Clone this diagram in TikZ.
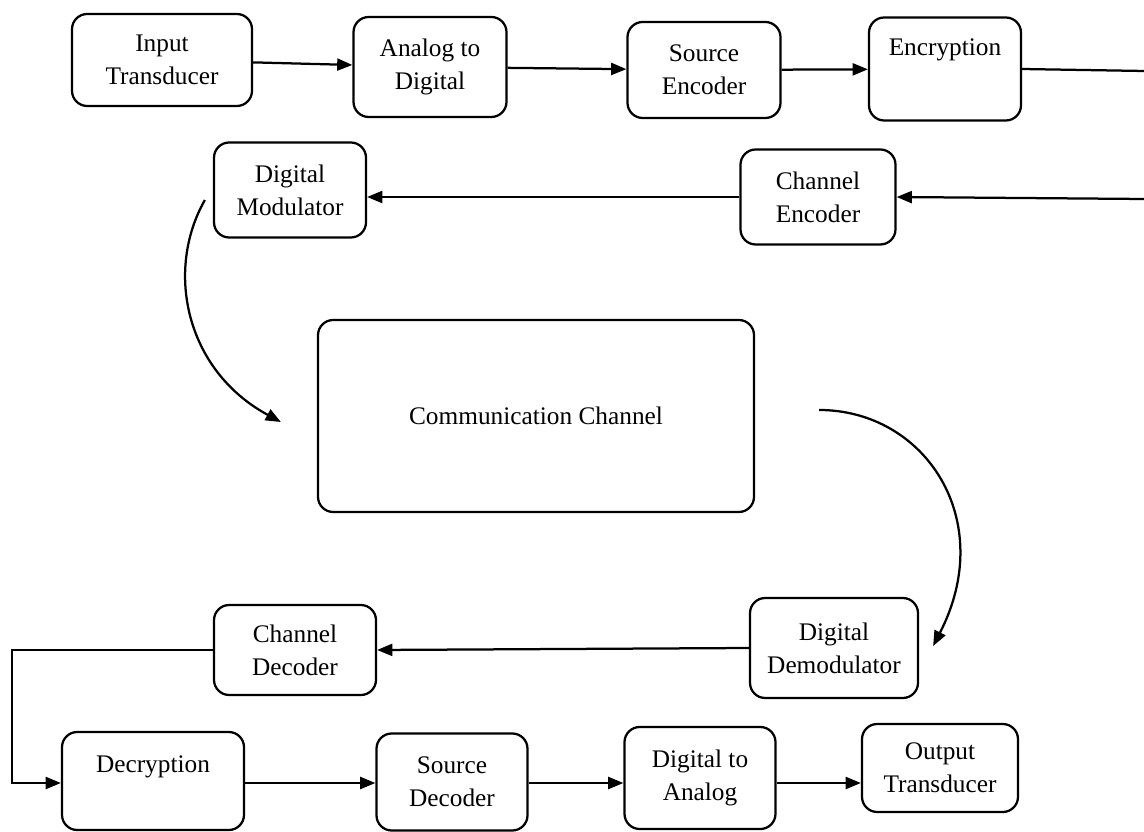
\documentclass[tikz,border=0pt]{standalone}
\usepackage{fontspec}
\setmainfont{Liberation Serif}
\usetikzlibrary{arrows.meta}
\begin{document}
\begin{tikzpicture}[x=0.025cm,y=-0.025cm,
  blk/.style={draw, line width=1.6pt, rounded corners=0.38cm, align=center,
    font=\fontsize{18}{23.5}\selectfont, inner sep=0pt},
  sz/.style 2 args={minimum width=#1*0.025cm, minimum height=#2*0.025cm},
  conn/.style={line width=1.6pt, -{Triangle[length=0.38cm,width=0.3cm]}},
  plain/.style={line width=1.6pt}]
\useasboundingbox (0,0) rectangle (1144,832);
% row 1
\node[blk, sz={180}{92}]  (IT)  at (162,60)  {Input\\Transducer};
\node[blk, sz={153}{100}] (A2D) at (430,67)  {Analog to\\Digital};
\node[blk, sz={153}{96}]  (SE)  at (704,70)  {Source\\Encoder};
\node[blk, sz={152}{103}] (ENC) at (945,69)  {Encryption\\[8pt]\mbox{}};
% row 2
\node[blk, sz={152}{95}]  (DM)  at (290,190) {Digital\\Modulator};
\node[blk, sz={155}{95}]  (CE)  at (818,197) {Channel\\Encoder};
% channel
\node[blk, sz={436}{192}] (CC)  at (536,416) {Communication Channel};
% row 4
\node[blk, sz={162}{90}]  (CD)  at (295,650) {Channel\\Decoder};
\node[blk, sz={168}{100}] (DD)  at (834,648) {Digital\\Demodulator};
% row 5
\node[blk, sz={182}{98}]  (DEC) at (153,781) {Decryption\\\mbox{}};
\node[blk, sz={151}{97}]  (SD)  at (452,782) {Source\\Decoder};
\node[blk, sz={151}{102}] (D2A) at (700,778) {Digital to\\Analog};
\node[blk, sz={156}{88}]  (OT)  at (940,768) {Output\\Transducer};
% free ends
\coordinate (R1) at (1144,71);
\coordinate (R2) at (1144,199);
\coordinate (L1) at (12,650);
\coordinate (L2) at (12,783);
% connectors row 1
\draw[conn] (IT) -- (A2D);
\draw[conn] (A2D) -- (SE);
\draw[conn] (SE) -- (ENC);
\draw[plain] (ENC.east) -- (R1);
\draw[conn] (R2) -- (CE.east);
\draw[conn] (CE.west) -- (DM.east |- CE.west);
% curves
\coordinate (DMout) at ([xshift=-0.2cm,yshift=-0.25cm]DM.west);
\coordinate (CCin) at ([xshift=-0.9cm,yshift=-0.15cm]CC.west);
\draw[conn] (DMout) .. controls (165,270) and (185,370) .. (CCin);
\coordinate (CCout) at ([xshift=1.6cm,yshift=0.15cm]CC.east);
\coordinate (DDin) at ([xshift=0.35cm,yshift=0.05cm]DD.east);
\draw[conn] (CCout) .. controls (925,410) and (998,520) .. (DDin);
% bottom
\draw[conn] (DD.west) -- (CD.east);
\draw[conn] (CD.west) -- (L1) -- (L2) -- (DEC.west |- L2);
\draw[conn] (DEC.east |- L2) -- (SD.west |- L2);
\draw[conn] (SD.east |- L2) -- (D2A.west |- L2);
\draw[conn] (D2A.east |- L2) -- (OT.west |- L2);
\end{tikzpicture}
\end{document}
